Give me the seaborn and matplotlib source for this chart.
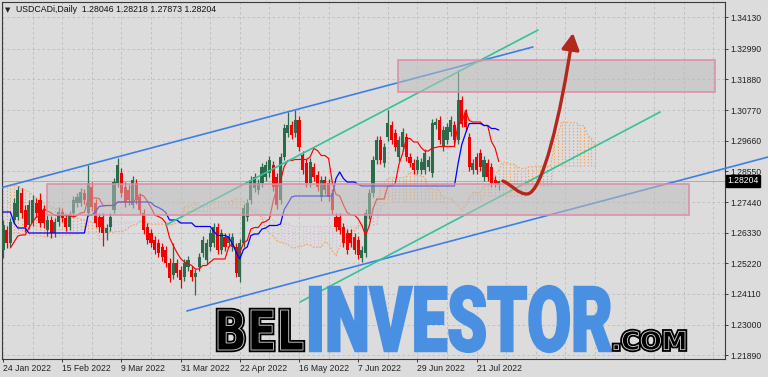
import numpy as np
import pandas as pd
import matplotlib
matplotlib.use("Agg")
import matplotlib.pyplot as plt
import seaborn as sns
from matplotlib.patches import Rectangle, PathPatch, FancyArrowPatch, ArrowStyle
from matplotlib.path import Path
from matplotlib.textpath import TextPath
from matplotlib.font_manager import FontProperties
from matplotlib.transforms import Affine2D, IdentityTransform, blended_transform_factory

# ---------------- data (daily USDCAD candles) ----------------
opens = [1.25704,1.26428,1.25957,1.26790,1.26898,1.27767,1.27152,1.26609,1.26681,1.27405,
         1.27514,1.27152,1.26428,1.26790,1.26319,1.26717,1.27080,1.26862,1.26536,1.27043,
         1.27405,1.27405,1.27767,1.27043,1.27985,1.27405,1.26898,1.26898,1.26319,1.26536,
         1.27152,1.28130,1.28492,1.27985,1.27876,1.27333,1.28130,1.27623,1.27043,1.26536,
         1.26319,1.26066,1.25957,1.25812,1.25704,1.25233,1.24798,1.25233,1.24979,1.24726,
         1.25088,1.24979,1.24726,1.25088,1.25595,1.25341,1.25812,1.25957,1.26536,1.25704,
         1.26174,1.25957,1.25812,1.25812,1.24726,1.25957,1.26898,1.27514,1.27949,1.27876,
         1.28130,1.28347,1.28492,1.28781,1.28347,1.27514,1.29071,1.29940,1.30230,1.29940,
         1.30411,1.29143,1.28854,1.28130,1.28709,
         1.28419,1.27623,1.28238,1.28130,1.27767,1.26898,1.26898,
         1.26536,1.26319,1.26319,1.26174,1.26066,1.25414,1.25595,1.26971,1.27767,1.28962,1.29687,
         1.28854,1.29795,1.30230,1.29940,1.29071,1.29433,1.29795,1.29071,1.28854,1.28600,1.28600,
         1.28600,1.28709,1.28492,1.30230,1.30411,
         1.29433,1.29687,1.29976,1.30230,1.29687,1.31135,1.30664,
         1.29795,1.28600,1.29071,
         1.29216,1.28347,1.28854,1.28709,1.28238,1.28046]
highs = [1.26790,1.26573,1.26862,1.27586,1.28021,1.27949,1.27333,1.27514,1.27695,1.27586,
         1.27767,1.27333,1.26971,1.26935,1.26862,1.27261,1.27224,1.27007,1.27116,1.27659,
         1.27767,1.27949,1.27912,1.28781,1.28166,1.27550,1.27043,1.27043,1.26645,1.27043,
         1.28311,1.29035,1.28673,1.28166,1.28057,1.28383,1.28274,1.27767,1.27188,1.26681,
         1.26464,1.26210,1.26102,1.25957,1.25848,1.25414,1.25957,1.25378,1.25124,1.25378,
         1.25486,1.25124,1.25016,1.25595,1.26210,1.26102,1.26464,1.26681,1.26681,1.26464,
         1.26319,1.26319,1.26319,1.25957,1.26102,1.27369,1.27550,1.28383,1.28492,1.28274,
         1.28854,1.28926,1.29107,1.28926,1.28492,1.29216,1.30266,1.30701,1.30375,1.30773,
         1.30556,1.29288,1.28999,1.29035,1.28854,
         1.28564,1.28383,1.28383,1.28274,1.27912,1.27043,1.27043,
         1.26681,1.26464,1.26464,1.26319,1.26210,1.25848,1.27188,1.27912,1.29107,1.29831,1.29831,
         1.29578,1.30773,1.30375,1.30085,1.29831,1.30121,1.29940,1.29216,1.28999,1.29107,1.29035,
         1.29361,1.29107,1.30447,1.30483,1.30556,
         1.30194,1.30302,1.30556,1.30375,1.32221,1.31280,1.30809,
         1.29940,1.28999,1.29216,
         1.29361,1.29107,1.28999,1.28854,1.28383,1.28218]
lows = [1.25414,1.25776,1.25812,1.26645,1.26790,1.26862,1.26355,1.26464,1.26573,1.26898,
        1.26536,1.26500,1.26210,1.26138,1.26174,1.26573,1.26717,1.26392,1.26428,1.26935,
        1.27261,1.27297,1.27369,1.26935,1.27116,1.26536,1.26355,1.25848,1.26066,1.26392,
        1.27043,1.27985,1.27623,1.27261,1.27333,1.27224,1.27369,1.27007,1.26283,1.25921,
        1.25812,1.25559,1.25450,1.25305,1.25088,1.24545,1.24653,1.24726,1.24328,1.24581,
        1.24943,1.24581,1.24074,1.24943,1.25450,1.25197,1.25667,1.25812,1.25559,1.25559,
        1.25667,1.25812,1.25667,1.24726,1.24545,1.25812,1.26754,1.27369,1.27804,1.27731,
        1.27985,1.28202,1.28347,1.27840,1.27188,1.27369,1.28962,1.29795,1.29723,1.29795,
        1.29288,1.28456,1.27985,1.27985,1.28202,
        1.27840,1.27478,1.27731,1.27478,1.27007,1.26392,1.26283,
        1.25812,1.25559,1.25812,1.25559,1.25378,1.25269,1.25450,1.26826,1.27623,1.28818,1.28818,
        1.28709,1.29650,1.29542,1.29288,1.28926,1.29288,1.28926,1.28709,1.28456,1.28456,1.28456,
        1.28456,1.28564,1.28347,1.30085,1.29542,
        1.29288,1.29542,1.29831,1.29542,1.29542,1.30157,1.30012,
        1.28564,1.28456,1.28456,
        1.28564,1.28202,1.28202,1.27985,1.27985,1.27873]
closes = [1.26609,1.25957,1.26717,1.27405,1.27876,1.27043,1.26536,1.27333,1.27514,1.27043,
          1.26681,1.26681,1.26790,1.26319,1.26717,1.27080,1.26862,1.26536,1.26971,1.27514,
          1.27623,1.27804,1.27514,1.28130,1.27261,1.26681,1.26536,1.26319,1.26500,1.26898,
          1.28166,1.28781,1.27767,1.27405,1.27514,1.28238,1.27514,1.27152,1.26428,1.26066,
          1.25957,1.25704,1.25595,1.25450,1.25233,1.24690,1.25233,1.24871,1.24617,1.25233,
          1.25341,1.24726,1.24871,1.25450,1.26066,1.25957,1.26319,1.26536,1.25704,1.26319,
          1.25812,1.26174,1.26174,1.24871,1.25957,1.27224,1.27405,1.28238,1.28347,1.28130,
          1.28709,1.28781,1.28962,1.27985,1.27333,1.29071,1.30121,1.30230,1.29868,1.30411,
          1.29433,1.28600,1.28130,1.28890,1.28347,
          1.27985,1.28238,1.27876,1.27623,1.27152,1.26536,1.26428,
          1.25957,1.25704,1.25957,1.25704,1.25522,1.25704,1.27043,1.27767,1.28962,1.29687,1.28962,
          1.29433,1.30302,1.29687,1.29433,1.29687,1.29976,1.29071,1.28854,1.28600,1.28962,1.28890,
          1.29216,1.28962,1.30302,1.30338,1.29687,
          1.30049,1.30157,1.30411,1.29687,1.31135,1.30302,1.30157,
          1.28709,1.28854,1.28600,
          1.28709,1.28962,1.28347,1.28130,1.28130,1.28204]

# Ichimoku values before the first visible bar
tenkan_pre = [np.nan, np.nan, 1.25776, 1.25993, 1.26210, 1.26247, 1.26247, 1.26500]
kijun_pre = [1.27080, 1.27080, 1.27080, 1.26681, 1.26500, 1.26500, 1.26500, 1.26319,
             1.26319, 1.26319, 1.26319, 1.26319, 1.26319, 1.26319, 1.26319, 1.26319,
             1.26319, 1.26319, 1.26319, 1.26319, 1.26319, 1.26319, 1.26319, 1.26971, 1.26971]
span_a_pre = [1.27949,1.28021,1.28057,1.28057,1.28021,1.27949,1.27876,1.27804,1.27695,1.27586,
              1.27514,1.27405,1.27333,1.27261,1.27224,1.27152,1.27080,1.27043,1.26971,1.26935,
              1.26862,1.26826,1.26790,1.26754,1.26717,1.26717]
span_b_pre = [1.26355,1.26355,1.26319,1.26319,1.26319,1.26283,1.26283,1.26247,1.26247,1.26210,
              1.26210,1.26174,1.26174,1.26174,1.26174,1.26210,1.26210,1.26247,1.26247,1.26283,
              1.26283,1.26319,1.26319,1.26355,1.26355,1.26355]

date_labels = ["24 Jan 2022", "15 Feb 2022", "9 Mar 2022", "31 Mar 2022", "22 Apr 2022",
               "16 May 2022", "7 Jun 2022", "29 Jun 2022", "21 Jul 2022"]
date_bars = [0, 16, 32, 48, 64, 80, 96, 112, 128]
price_ticks = [1.34130, 1.32990, 1.31880, 1.30770, 1.29660, 1.28550, 1.27440,
               1.26330, 1.25220, 1.24110, 1.23000, 1.21890]
last_price = 1.28204
header = "USDCADi,Daily  1.28046 1.28218 1.27873 1.28204"

# drawn objects (bar index, price)
blue_up = ([-0.27, 143.2], [1.27967, 1.33054])
blue_dn = ([49.7, 206.8], [1.23495, 1.29071])
teal_up = ([44.05, 144.6], [1.26609, 1.33670])
teal_dn = ([80.3, 177.6], [1.23821, 1.30701])
rect_top = (106.8, 192.4, 1.31425, 1.32583)
rect_mid = (11.9, 185.4, 1.26971, 1.28093)
arrow_x = [135.1, 137.6, 139.2, 141.6, 145.7, 150.8, 154.05]
arrow_y = [1.28202, 1.28057, 1.27731, 1.27731, 1.27731, 1.30592, 1.33561]

# ---------------- style ----------------
BG = "#dcdcdc"
sns.set_theme(style="white", rc={"axes.facecolor": BG, "figure.facecolor": BG,
                                 "savefig.facecolor": BG})
plt.rcParams["font.family"] = ["Liberation Sans", "DejaVu Sans"]

W, H = 768, 377
fig = plt.figure(figsize=(W / 100, H / 100), dpi=100)
L, R, T, B = 2, 725, 2, 359
ax = fig.add_axes([L / W, 1 - B / H, (R - L) / W, (B - T) / H])
step = 3.7
x0 = -1 / step
ax.set_xlim(x0, x0 + (R - L) / step)
ax.set_ylim(1.21756, 1.34684)

df = pd.DataFrame({"o": opens, "h": highs, "l": lows, "c": closes})
n = len(df)
xb = np.arange(n)

# Ichimoku
tenkan_full = (df.h.rolling(9, min_periods=1).max() + df.l.rolling(9, min_periods=1).min()) / 2
kijun_full = (df.h.rolling(26, min_periods=1).max() + df.l.rolling(26, min_periods=1).min()) / 2
tenkan = tenkan_full.copy()
tenkan.iloc[:len(tenkan_pre)] = tenkan_pre
kijun = kijun_full.copy()
kijun.iloc[:len(kijun_pre)] = kijun_pre
span_a_now = (tenkan.fillna(tenkan_full) + kijun) / 2
span_b_now = (df.h.rolling(52, min_periods=1).max() + df.l.rolling(52, min_periods=1).min()) / 2
span_a = np.concatenate([span_a_pre, span_a_now.values])
span_b = np.concatenate([span_b_pre, span_b_now.values])
xc = np.arange(len(span_a))

# grid
ax.set_xticks(date_bars)
ax.set_xticks(np.arange(0, 200, 8), minor=True)
ax.set_xticklabels(date_labels)
ax.set_yticks(price_ticks)
ax.set_yticklabels([f"{p:.5f}" for p in price_ticks])
ax.yaxis.tick_right()
ax.grid(True, which="both", axis="x", color="#bcbcbc", ls=(0, (3, 3)), lw=0.6, zorder=0)
ax.grid(True, which="major", axis="y", color="#bcbcbc", ls=(0, (3, 3)), lw=0.6, zorder=0)
ax.set_axisbelow(True)

# cloud
ccol = np.where(span_a >= span_b, "#f4a460", "#d8bfd8")
ax.vlines(xc, np.minimum(span_a, span_b), np.maximum(span_a, span_b), colors=ccol,
          linestyles=(0, (1.2, 1.6)), lw=0.8, zorder=1.2)
sns.lineplot(x=xc, y=span_a, ax=ax, color="#f4a460", lw=0.8, linestyle=(0, (1.5, 1.5)),
             estimator=None, sort=False, zorder=1.3)
sns.lineplot(x=xc, y=span_b, ax=ax, color="#d8bfd8", lw=0.8, linestyle=(0, (1.5, 1.5)),
             estimator=None, sort=False, zorder=1.3)

# current price line
ax.axhline(last_price, color="#a6a6a6", lw=0.6, zorder=1.5)

# candles
o = df.o.values; c = df.c.values
up = c >= o
GREEN, RED = "#2b6a4b", "#f00000"
col = np.where(up, GREEN, RED)
ax.vlines(xb, df.l.values, df.h.values, colors=col, lw=0.9, zorder=3)
ax.bar(xb, np.maximum(np.abs(c - o), 0.00012), bottom=np.minimum(o, c), width=0.85,
       color=col, lw=0, zorder=3.1)

# tenkan / kijun
sns.lineplot(x=xb, y=tenkan.values, ax=ax, color="#ff0000", lw=0.85, estimator=None,
             sort=False, zorder=3.5)
sns.lineplot(x=xb, y=kijun.values, ax=ax, color="#0000ff", lw=0.9, estimator=None,
             sort=False, zorder=3.5)

# trend channels
ax.plot(*blue_up, color="#3f7fe4", lw=1.2, zorder=3.8)
ax.plot(*blue_dn, color="#3f7fe4", lw=1.2, zorder=3.8, clip_on=False)
ax.plot(*teal_up, color="#34c29a", lw=1.2, zorder=3.8)
ax.plot(*teal_dn, color="#34c29a", lw=1.2, zorder=3.8)

# zones
for (xa, xbb, ya, yb) in (rect_top, rect_mid):
    ax.add_patch(Rectangle((xa, ya), xbb - xa, yb - ya, fc=(0.74, 0.74, 0.74, 0.55),
                           ec="#dc8ca6", lw=1.1, zorder=4))

# forecast arrow
verts = list(zip(arrow_x, arrow_y))
codes = [Path.MOVETO] + [Path.CURVE4] * 6
arr = FancyArrowPatch(path=Path(verts, codes),
                      arrowstyle=ArrowStyle("-|>", head_length=0.7, head_width=0.38),
                      mutation_scale=14, color="#b3281d", lw=2.4, zorder=6)
ax.add_patch(arr)

# axes cosmetics
for s in ax.spines.values():
    s.set_color("#3a3a3a"); s.set_linewidth(0.8); s.set_visible(True)
ax.tick_params(axis="y", which="major", direction="out", length=2.5, width=0.6, pad=1.2,
               labelsize=6.2, colors="#222222", right=True, left=False,
               labelright=True, labelleft=False)
ax.tick_params(axis="x", which="major", direction="out", length=2.5, width=0.6, pad=0.8,
               labelsize=6.2, colors="#222222", bottom=True)
ax.tick_params(axis="x", which="minor", length=0)
for lab in ax.get_xticklabels():
    lab.set_horizontalalignment("left")
ax.set_xlabel(""); ax.set_ylabel("")

tr = blended_transform_factory(ax.transAxes, ax.transData)
ax.text(1.0035, last_price, f"{last_price:.5f}", transform=tr, ha="left", va="center",
        fontsize=6.2, color="white", clip_on=False, zorder=10,
        bbox=dict(boxstyle="square,pad=0.18", fc="black", ec="black"))

# header
fig.text(4.5 / W, 1 - 10.5 / H, "\u25bc", fontsize=5, family="DejaVu Sans",
         color="#222222", va="center")
fig.text(16 / W, 1 - 10 / H, header, fontsize=6.3, color="#111111", va="center")

# watermark
def fitted(s, xl, ytop, xr, ybot, fp):
    tp = TextPath((0, 0), s, size=100, prop=fp)
    bb = tp.get_extents()
    t = (Affine2D().translate(-bb.x0, -bb.y0)
         .scale((xr - xl) / bb.width, (ybot - ytop) / bb.height)
         .translate(xl, H - ybot))
    return t.transform_path(tp)

fp_heavy = FontProperties(family=["Roboto", "DejaVu Sans"], weight="black")
fp_bold = FontProperties(family=["DejaVu Sans"], weight="bold")
p_inv = fitted("INVESTOR", 310, 286, 611, 352, fp_heavy)
fig.add_artist(PathPatch(p_inv, transform=IdentityTransform(), fc="#4a90e2",
                         ec="#4a90e2", lw=1.6, zorder=20))
for s, box in (("BEL", (218, 310, 303, 350)), (".COM", (614, 331, 685, 350))):
    p = fitted(s, *box, fp_bold)
    fig.add_artist(PathPatch(p, transform=IdentityTransform(), fc="black", ec="black",
                             lw=3.2, zorder=20))
    fig.add_artist(PathPatch(p, transform=IdentityTransform(), fc="black", ec="#d8d8d8",
                             lw=0.6, zorder=21))

fig.savefig("out.png", dpi=100, facecolor=BG)
